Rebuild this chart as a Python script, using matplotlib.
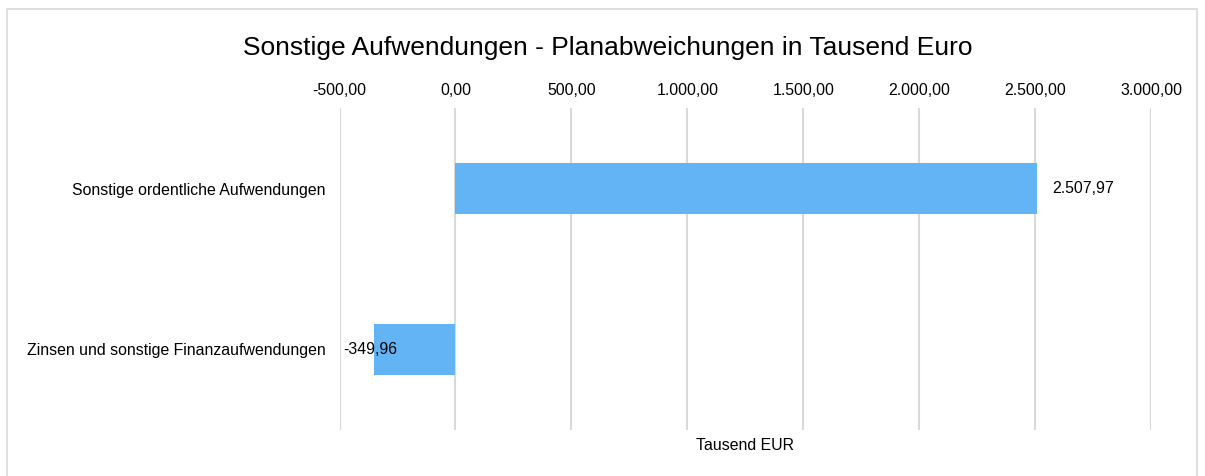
import matplotlib
matplotlib.use("Agg")
import matplotlib.pyplot as plt
from matplotlib.patches import Rectangle

categories = ["Sonstige ordentliche Aufwendungen", "Zinsen und sonstige Finanzaufwendungen"]
values = [2507.97, -349.96]
xticks = [-500, 0, 500, 1000, 1500, 2000, 2500, 3000]
title = "Sonstige Aufwendungen - Planabweichungen in Tausend Euro"
xlabel = "Tausend EUR"

def de_fmt(v):
    s = f"{v:,.2f}"
    return s.replace(",", "X").replace(".", ",").replace("X", ".")

plt.rcParams['font.family'] = ['Liberation Sans', 'DejaVu Sans']

W, H = 1205, 476
fig = plt.figure(figsize=(W/100, H/100), dpi=100)
fig.patches.append(Rectangle((7/W, -0.1), (1197-7)/W, 1 - 9/H + 0.1, transform=fig.transFigure,
                             fill=False, edgecolor="#D9D9D9", linewidth=1.2))

FS = 11.4
ax = fig.add_axes([339.5/W, 1 - 430/H, (1151-339.5)/W, (430-108)/H])
y = list(range(len(categories)))
ax.barh(y, values, height=0.32, color="#63B4F5", zorder=2)
ax.set_xlim(-500, 3000)
ax.set_ylim(len(categories) - 0.5, -0.5)
ax.set_xticks(xticks)
ax.set_xticklabels([de_fmt(t) for t in xticks])
ax.xaxis.tick_top()
ax.tick_params(axis='x', length=0, pad=7, labelsize=FS, colors="#000000")
ax.set_yticks(y)
ax.set_yticklabels(categories)
ax.tick_params(axis='y', length=0, pad=10, labelsize=FS)
ax.grid(axis='x', color="#D9D9D9", linewidth=1.5, zorder=0)
for s in ax.spines.values():
    s.set_visible(False)

for yi, v in zip(y, values):
    if v >= 0:
        ax.annotate(de_fmt(v), (v, yi), xytext=(15, 0), textcoords='offset pixels',
                    ha='left', va='center', fontsize=FS, zorder=3)
    else:
        ax.annotate(de_fmt(v), (v, yi), xytext=(-31, 0), textcoords='offset pixels',
                    ha='left', va='center', fontsize=FS, zorder=3)

fig.text(745/W, 1 - 445/H, xlabel, ha='center', va='center', fontsize=FS)
fig.text(608/W, 1 - 48/H, title, ha='center', va='center', fontsize=19)

fig.savefig("out.png", dpi=100)
